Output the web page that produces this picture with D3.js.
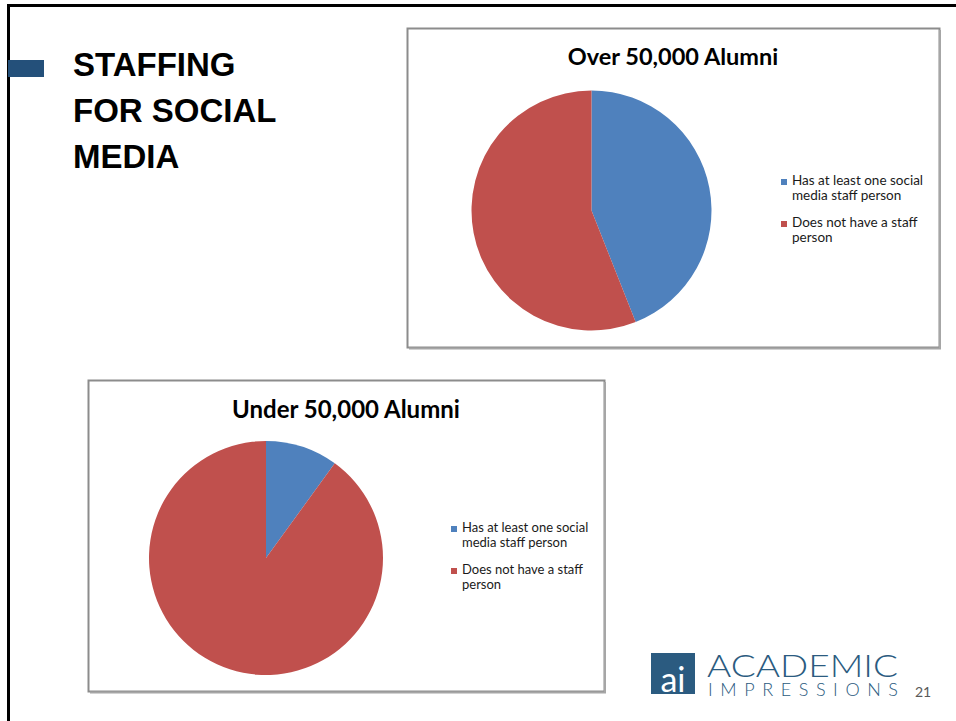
<!DOCTYPE html>
<html>
<head>
<meta charset="utf-8">
<script src="https://cdn.jsdelivr.net/npm/d3@7"></script>
<style>
  body { margin: 0; background: #fff; }
  svg { display: block; }
</style>
</head>
<body>
<svg id="slide" width="956" height="721"></svg>
<script>
// slide data
const slideTitle = ['STAFFING', 'FOR SOCIAL', 'MEDIA'];
const categories = ['Has at least one social media staff person', 'Does not have a staff person'];
// legend wraps the category names on two lines, like the original
const legendLines = [
  ['Has at least one social', 'media staff person'],
  ['Does not have a staff', 'person'],
];
const overValues = [44, 56];
const underValues = [10, 90];
const colors = ['#4F81BD', '#C0504D'];
const pageNumber = '21';

const svg = d3.select('#slide');

// slide frame (left + top)
svg.append('path')
  .attr('d', 'M8.5 721 V5.5 H956')
  .attr('fill', 'none')
  .attr('stroke', '#000')
  .attr('stroke-width', 3);

// title marker + title
svg.append('rect')
  .attr('x', 8).attr('y', 60)
  .attr('width', 36).attr('height', 17)
  .attr('fill', '#24507a');

svg.append('g')
  .selectAll('text')
  .data(slideTitle)
  .join('text')
  .attr('x', 73)
  .attr('y', (d, i) => 76 + i * 46)
  .attr('font-family', 'Liberation Sans, Arial, sans-serif')
  .attr('font-weight', 'bold')
  .attr('font-size', 33)
  .attr('fill', '#000')
  .text((d) => d);

function pieChart(opt) {
  const { x, y, w, h, title, titleY, titleSize, values, cx, cy, r, legendX, legendY, legendSize } = opt;
  const g = svg.append('g').attr('transform', `translate(${x},${y})`);

  // panel with the small shadow on right/bottom
  g.append('rect')
    .attr('x', 0.5).attr('y', 0.5)
    .attr('width', w).attr('height', h)
    .attr('fill', '#fff')
    .attr('stroke', '#8c8c8c')
    .attr('stroke-width', 2);
  g.append('path')
    .attr('d', `M${w + 1} 2 V${h + 1.5} H2`)
    .attr('fill', 'none')
    .attr('stroke', '#a6a6a6')
    .attr('stroke-width', 2);

  g.append('text')
    .attr('x', w / 2)
    .attr('y', titleY)
    .attr('text-anchor', 'middle')
    .attr('font-family', 'Lato, Carlito, Calibri, sans-serif')
    .attr('font-weight', 'bold')
    .attr('font-size', titleSize)
    .attr('fill', '#000')
    .text(title);

  const pie = d3.pie().sort(null).value((d) => d);
  const arc = d3.arc().innerRadius(0).outerRadius(r);

  g.append('g')
    .attr('transform', `translate(${cx},${cy})`)
    .selectAll('path')
    .data(pie(values))
    .join('path')
    .attr('d', arc)
    .attr('fill', (d, i) => colors[i]);

  const legend = g.append('g')
    .attr('transform', `translate(${legendX},${legendY})`)
    .selectAll('g')
    .data(categories)
    .join('g')
    .attr('transform', (d, i) => `translate(0,${i * 42})`);

  legend.append('rect')
    .attr('x', 0).attr('y', -6)
    .attr('width', 6).attr('height', 6)
    .attr('fill', (d, i) => colors[i]);

  legend.append('text')
    .attr('x', 11)
    .attr('font-family', 'Lato, Carlito, Calibri, sans-serif')
    .attr('font-size', legendSize)
    .attr('fill', '#1a1a1a')
    .selectAll('tspan')
    .data((d, i) => legendLines[i])
    .join('tspan')
    .attr('x', 11)
    .attr('dy', (d, i) => (i === 0 ? 0 : 15))
    .text((d) => d);
}

pieChart({
  x: 407, y: 28, w: 532, h: 319,
  title: 'Over 50,000 Alumni', titleY: 37, titleSize: 23.5,
  values: overValues,
  cx: 184.5, cy: 182.5, r: 120,
  legendX: 374, legendY: 157, legendSize: 13.5,
});

pieChart({
  x: 88, y: 380, w: 516, h: 311,
  title: 'Under 50,000 Alumni', titleY: 38, titleSize: 24,
  values: underValues,
  cx: 178, cy: 178, r: 117,
  legendX: 363, legendY: 152, legendSize: 13,
});

// logo
const logo = svg.append('g').attr('transform', 'translate(651,653)');
logo.append('rect')
  .attr('width', 44).attr('height', 41)
  .attr('fill', '#2b5b80');
logo.append('text')
  .attr('x', 22).attr('y', 39)
  .attr('text-anchor', 'middle')
  .attr('font-family', 'Lato, Open Sans, sans-serif')
  .attr('font-size', 34)
  .attr('fill', '#fff')
  .text('ai');
// two-line wordmark as one text block
const mark = logo.append('text')
  .attr('font-family', 'Lato, Open Sans, sans-serif')
  .attr('font-weight', 300)
  .attr('fill', '#2b5b80');
mark.append('tspan')
  .attr('x', 56).attr('y', 24)
  .attr('font-size', 32)
  .attr('textLength', 191)
  .attr('lengthAdjust', 'spacingAndGlyphs')
  .text('ACADEMIC');
mark.append('tspan')
  .attr('x', 57).attr('y', 43)
  .attr('font-size', 18)
  .attr('textLength', 190)
  .attr('lengthAdjust', 'spacing')
  .text('IMPRESSIONS');

svg.append('text')
  .attr('x', 915).attr('y', 697)
  .attr('font-family', 'Lato, Carlito, Calibri, sans-serif')
  .attr('font-size', 14)
  .attr('fill', '#595959')
  .text(pageNumber);
</script>
</body>
</html>
